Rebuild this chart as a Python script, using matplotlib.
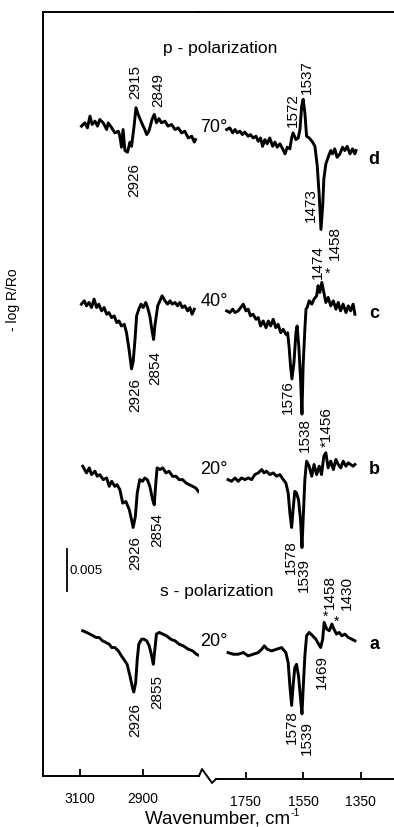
import matplotlib
matplotlib.use("Agg")
import numpy as np
import matplotlib.pyplot as plt
from matplotlib.lines import Line2D

plt.rcParams['font.family'] = ['Liberation Sans', 'DejaVu Sans']

# -log R/Ro in units of 1e-3, relative to the baseline of each trace
# C-H stretching region (left panel)
ch_wn_d = [3095, 3084, 3076, 3068, 3061, 3052, 3044, 3037, 3026, 3015, 3010, 2999, 2989, 2978, 2973,
           2968, 2963, 2957, 2949, 2941, 2936, 2928, 2922, 2915, 2904, 2894, 2888, 2881, 2871, 2864,
           2857, 2849, 2841, 2830, 2820, 2809, 2798, 2788, 2777, 2767, 2756, 2745, 2737, 2733]
ch_d = [0.0, 0.4, -0.2, 1.2, 0.2, 0.6, 0.0, 0.8, 0.4, -0.4, 0.4, -0.2, -0.8, -0.6, -1.2,
        -2.5, -0.4, -2.9, -3.1, -1.9, -2.4, 0.0, 2.2, 1.4, 0.4, -0.4, -1.0, -0.6, 0.8, 1.4,
        0.4, 0.9, 0.4, 0.6, 0.0, 0.2, -0.4, -0.2, -0.8, -0.6, -1.4, -1.2, -1.9, -1.6]

ch_wn_c = [3095, 3086, 3079, 3071, 3063, 3055, 3047, 3040, 3031, 3023, 3015, 3008, 2999, 2991, 2983,
           2976, 2968, 2959, 2952, 2944, 2936, 2931, 2925, 2920, 2913, 2906, 2899, 2891, 2885, 2878,
           2870, 2866, 2862, 2853, 2846, 2839, 2830, 2822, 2814, 2807, 2798, 2790, 2783, 2775, 2767,
           2758, 2751, 2744, 2737]
ch_c = [0.0, 0.4, -0.2, 0.2, -0.4, 0.6, -0.4, 0.0, -0.8, -0.4, -1.2, -1.0, -1.6, -1.4, -2.2,
        -2.0, -2.6, -2.4, -3.4, -5.4, -7.7, -6.9, -4.2, -1.4, -0.6, 0.0, -0.4, 0.2, -0.4, -1.4,
        -3.4, -4.2, -2.6, -0.2, 0.4, 1.0, 0.4, 0.0, 0.4, 0.0, 0.2, -0.2, 0.2, -0.4, -0.2,
        -0.8, -0.4, -1.2, -0.6]

ch_wn_b = [3091, 3079, 3070, 3063, 3052, 3045, 3037, 3026, 3015, 3007, 2999, 2989, 2982, 2973, 2964,
           2954, 2943, 2936, 2931, 2924, 2918, 2910, 2901, 2894, 2886, 2878, 2869, 2864, 2859, 2855,
           2846, 2837, 2827, 2817, 2806, 2795, 2785, 2774, 2763, 2753, 2742, 2732, 2724]
ch_b = [0.4, -0.4, 0.2, -0.6, -0.2, -0.8, -0.6, -1.2, -1.0, -2.0, -1.4, -2.0, -1.8, -2.4, -4.0,
        -3.8, -4.8, -6.0, -6.9, -5.6, -2.8, -1.2, -1.4, -1.0, -1.2, -2.0, -3.6, -4.2, -1.6, 0.2,
        0.0, 0.2, -0.4, -0.2, -0.8, -0.8, -1.2, -1.2, -1.6, -1.8, -2.0, -2.2, -2.6]

ch_wn_a = [3091, 3079, 3068, 3058, 3049, 3039, 3028, 3017, 3007, 2999, 2989, 2978, 2968, 2957, 2950,
           2941, 2933, 2929, 2923, 2918, 2913, 2904, 2897, 2888, 2880, 2872, 2867, 2862, 2857, 2848,
           2837, 2825, 2812, 2798, 2785, 2772, 2756, 2742, 2730, 2724]
ch_a = [1.0, 0.8, 0.6, 0.4, 0.2, 0.2, -0.2, -0.4, -0.6, -1.0, -1.0, -1.4, -2.0, -2.6, -3.0,
        -4.4, -5.8, -6.3, -5.2, -2.4, -0.6, 0.0, 0.0, -0.2, -0.8, -2.0, -3.0, -1.2, 0.6, 0.8,
        0.6, 0.4, 0.0, -0.2, -0.6, -0.8, -1.2, -1.4, -1.8, -1.9]

# 1850 - 1350 cm-1 region (right panel)
fp_wn_d = [1817, 1806, 1796, 1788, 1780, 1771, 1762, 1754, 1742, 1734, 1725, 1715, 1707, 1699, 1692,
           1684, 1676, 1667, 1657, 1649, 1641, 1632, 1622, 1614, 1606, 1597, 1591, 1586, 1576, 1568,
           1562, 1556, 1551, 1545, 1539, 1530, 1518, 1510, 1502, 1495, 1489, 1483, 1479, 1472, 1464,
           1455, 1449, 1441, 1433, 1423, 1414, 1406, 1398, 1388, 1379, 1371, 1367]
fp_d = [-0.4, -0.2, -0.8, -0.4, -0.8, -0.6, -1.0, -0.7, -1.2, -1.0, -1.4, -1.2, -1.8, -1.4, -2.4,
        -1.6, -2.1, -1.4, -2.4, -1.9, -2.5, -2.1, -2.7, -3.3, -2.5, -2.7, -1.4, -0.8, -1.6, -1.4,
        -0.4, 2.4, 3.2, 1.6, -1.2, -1.4, -1.9, -2.4, -4.7, -8.3, -12.3, -9.5, -6.3, -4.5, -3.7,
        -2.9, -3.3, -2.7, -3.7, -3.3, -2.5, -2.9, -2.4, -3.3, -2.7, -3.3, -2.9]

fp_wn_c = [1817, 1806, 1796, 1788, 1777, 1768, 1759, 1750, 1742, 1734, 1725, 1715, 1707, 1699, 1690,
           1680, 1672, 1664, 1655, 1646, 1638, 1629, 1620, 1611, 1605, 1600, 1595, 1590, 1583, 1576,
           1572, 1566, 1560, 1555, 1551, 1545, 1541, 1537, 1530, 1521, 1513, 1504, 1499, 1493, 1486,
           1479, 1472, 1464, 1455, 1446, 1437, 1429, 1421, 1412, 1402, 1394, 1386, 1377, 1371]
fp_c = [-0.8, -1.0, -0.6, -1.0, -0.8, -0.4, 0.0, -0.8, -0.6, -1.4, -1.2, -1.8, -1.6, -2.6, -2.0,
        -2.8, -2.0, -2.6, -1.8, -2.8, -2.4, -3.4, -3.0, -3.6, -3.4, -5.0, -7.3, -8.9, -7.0, -3.4,
        -2.6, -5.0, -8.9, -13.1, -7.3, -3.0, -0.6, -0.4, 0.4, 0.0, 0.6, 1.0, 2.2, 1.4, 2.6,
        1.4, 0.2, 0.8, -0.2, 0.4, -0.6, 0.2, -0.8, 0.0, -1.0, -0.2, -0.8, 0.0, -1.2]

fp_wn_b = [1812, 1800, 1788, 1777, 1765, 1753, 1742, 1730, 1719, 1707, 1695, 1687, 1678, 1667, 1655,
           1643, 1632, 1620, 1611, 1603, 1597, 1591, 1586, 1580, 1574, 1567, 1560, 1555, 1551, 1545,
           1539, 1530, 1521, 1513, 1504, 1495, 1487, 1479, 1472, 1464, 1455, 1446, 1437, 1429, 1420,
           1412, 1402, 1394, 1386, 1377, 1371]
fp_b = [-1.2, -1.4, -1.0, -1.4, -1.0, -1.2, -1.0, -1.2, -0.6, -0.4, 0.0, -0.4, -0.2, -0.6, -0.4,
        -0.8, -0.6, -1.2, -1.6, -2.8, -5.2, -6.9, -4.8, -2.6, -2.8, -3.6, -6.0, -9.3, -6.0, -1.2,
        1.0, 0.4, -0.8, 0.6, -0.6, 0.4, -0.6, 1.6, 2.0, 0.2, 1.0, 0.0, 1.2, 0.6, 0.2,
        1.0, 0.4, 0.8, 0.6, 0.4, 0.6]

fp_wn_a = [1812, 1794, 1777, 1759, 1742, 1725, 1707, 1695, 1686, 1676, 1661, 1643, 1626, 1611, 1603,
           1597, 1591, 1586, 1580, 1574, 1567, 1560, 1555, 1551, 1545, 1539, 1530, 1518, 1507, 1497,
           1490, 1483, 1478, 1469, 1460, 1451, 1444, 1435, 1426, 1416, 1406, 1394, 1382, 1371]
fp_a = [-1.6, -1.8, -1.8, -1.6, -2.0, -1.8, -1.6, -1.2, -0.8, -1.2, -1.4, -1.2, -1.0, -1.6, -2.8,
        -5.6, -7.9, -5.6, -3.4, -3.0, -4.4, -7.1, -8.9, -6.0, -2.0, 0.4, 0.8, 0.4, 0.0, -0.6,
        -1.0, 0.0, 2.0, 1.2, 1.0, 1.8, 1.2, 0.6, 0.8, 0.4, 0.6, 0.2, 0.0, -0.2]

trace_names = ['d', 'c', 'b', 'a']
angles = ['70°', '40°', '20°', '20°']
offsets = [77.4, 56.2, 36.5, 16.3]
scale_bar = 5.0  # 0.005

W, H = 394, 828


def px_box(x0, x1, y0, y1):
    return [x0 / W, 1 - y1 / H, (x1 - x0) / W, (y1 - y0) / H]


def ptext(x, y, s, **kw):
    kw.setdefault('ha', 'center')
    kw.setdefault('va', 'center')
    return fig.text(x / W, 1 - y / H, s, **kw)


fig = plt.figure(figsize=(W / 100, H / 100), dpi=100)
ax1 = fig.add_axes(px_box(43, 199, 13, 777))
ax2 = fig.add_axes(px_box(216, 394, 13, 780))

ch = [(ch_wn_d, ch_d), (ch_wn_c, ch_c), (ch_wn_b, ch_b), (ch_wn_a, ch_a)]
fp = [(fp_wn_d, fp_d), (fp_wn_c, fp_c), (fp_wn_b, fp_b), (fp_wn_a, fp_a)]
for (wn, v), off in zip(ch, offsets):
    ax1.plot(wn, np.array(v) + off, color='black', lw=2.1, solid_joinstyle='round')
for (wn, v), off in zip(fp, offsets):
    ax2.plot(wn, np.array(v) + off, color='black', lw=2.1, solid_joinstyle='round')

ax1.set_xlim(3217, 2722)
ax2.set_xlim(1854, 1235)
ax1.set_ylim(0, 91)
ax2.set_ylim(-0.36, 91)
for ax in (ax1, ax2):
    ax.set_yticks([])
    ax.tick_params(axis='x', direction='in', length=5, width=1.3, labelsize=10, pad=11)
    for s in ax.spines.values():
        s.set_linewidth(1.4)
    ax.spines['right'].set_visible(False)
ax2.spines['left'].set_visible(False)
ax1.set_xticks([3100, 2900])
ax2.set_xticks([1750, 1550, 1350])

# axis break and the top frame over the gap
fig.add_artist(Line2D([199 / W, 202 / W, 212 / W, 216 / W],
                      [1 - 777 / H, 1 - 770 / H, 1 - 784 / H, 1 - 780 / H], color='black', lw=1.4))
fig.add_artist(Line2D([198 / W, 217 / W], [1 - 13 / H, 1 - 13 / H], color='black', lw=1.4))

# scale bar
ax1.plot([3141, 3141], [22.0, 22.0 + scale_bar], color='black', lw=1.3)
ax1.text(3133, 22.0 + scale_bar / 2, '0.005', ha='left', va='center', fontsize=9.5)

# x label with a small superscript
xl = ptext(145, 819, 'Wavenumber, cm', fontsize=13.5, ha='left')
fig.canvas.draw()
bb = xl.get_window_extent()
fig.text((bb.x1 + 0.5) / W, 1 - 813 / H, '-1', fontsize=7.5, ha='left', va='center')

ptext(13, 300, '- log R/Ro', rotation=90, fontsize=10)
ptext(220, 49, 'p - polarization', fontsize=12.5)
ptext(217, 592, 's - polarization', fontsize=12.5)

for name, y in zip(trace_names, [160, 313, 470, 645]):
    ptext(374, y, name, fontsize=13, fontweight='bold')
for ang, y in zip(angles, [127, 302, 470, 642]):
    ptext(214, y, ang, fontsize=13)

peak_labels = [
    ('2926', 134, 180), ('2915', 135, 82), ('2849', 158, 90), ('1572', 293, 110), ('1537', 307, 77),
    ('1473', 311, 205),
    ('2926', 135, 395), ('2854', 155, 368), ('1576', 288, 397), ('1538', 305, 435), ('1474', 318, 262),
    ('1458', 335, 243), ('*1456', 327, 427),
    ('2926', 135, 553), ('2854', 157, 530), ('1578', 291, 557), ('1539', 304, 575),
    ('2926', 135, 720), ('2855', 157, 692), ('1578', 292, 727), ('1539', 307, 738), ('1469', 322, 672),
    ('1458', 330, 592), ('1430', 347, 593),
]
for s, x, y in peak_labels:
    ptext(x, y, s, rotation=90, fontsize=11)
for x, y in [(328, 274), (326, 617), (337, 622)]:
    ptext(x, y, '*', fontsize=10)

fig.savefig('out.png', dpi=100)
